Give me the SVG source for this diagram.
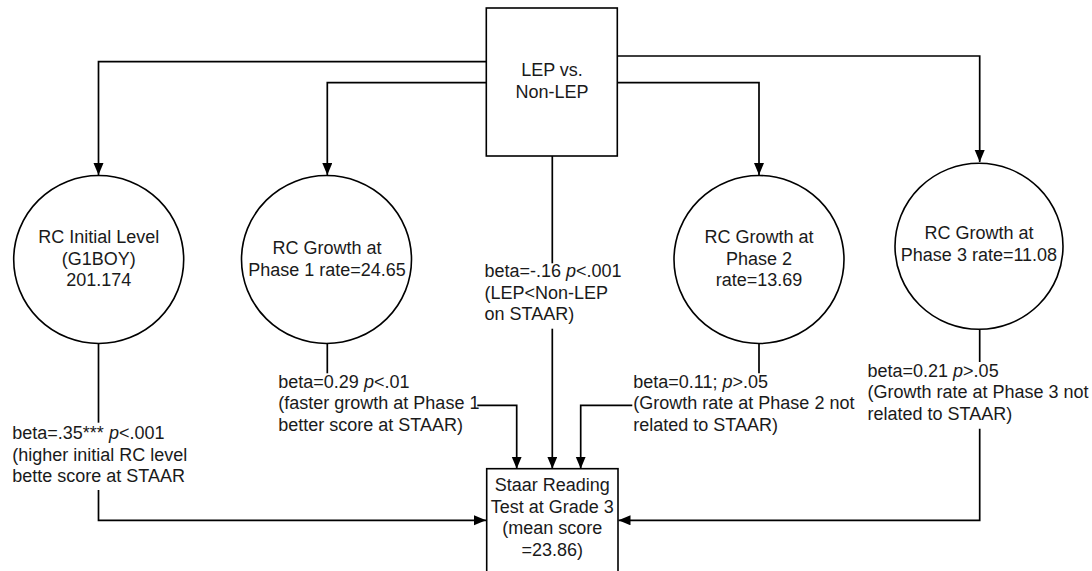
<svg xmlns="http://www.w3.org/2000/svg" width="1092" height="571" viewBox="0 0 1092 571">
<defs>
<style>
.shape{fill:#fff;stroke:#000;stroke-width:1.6}
.conn{fill:none;stroke:#000;stroke-width:1.7}
text{font-family:"Liberation Sans",Arial,sans-serif;font-size:18px;fill:#1a1a1a}
.c{text-anchor:middle}
.i{font-style:italic}
</style>
<marker id="arr" markerUnits="userSpaceOnUse" markerWidth="13" markerHeight="11" refX="12" refY="5" orient="auto">
<path d="M0,0 L12,5 L0,10 z" fill="#000"/>
</marker>
</defs>
<rect width="1092" height="571" fill="#fff"/>
<g id="connectors">
<path class="conn" d="M486.3,61.7 H98.5 V175" marker-end="url(#arr)"/>
<path class="conn" d="M486.3,82.7 H327.3 V175" marker-end="url(#arr)"/>
<path class="conn" d="M617.3,82.7 H759 V175" marker-end="url(#arr)"/>
<path class="conn" d="M617.3,56 H979.7 V162" marker-end="url(#arr)"/>
<path class="conn" d="M552.3,156 V263.3"/>
<path class="conn" d="M552.3,328.7 V468.7" marker-end="url(#arr)"/>
<path class="conn" d="M98.5,343.3 V422.7"/>
<path class="conn" d="M98.5,490 V520.3 H486" marker-end="url(#arr)"/>
<path class="conn" d="M327.3,343.3 V373.3"/>
<path class="conn" d="M477.3,405.3 H516.7 V468.7" marker-end="url(#arr)"/>
<path class="conn" d="M759,343.3 V373.3"/>
<path class="conn" d="M632.3,405.3 H580.7 V468.7" marker-end="url(#arr)"/>
<path class="conn" d="M979.7,329.3 V362"/>
<path class="conn" d="M979.7,428.7 V520.3 H618.5" marker-end="url(#arr)"/>
</g>
<g id="lep">
<rect class="shape" x="486.3" y="8" width="131" height="148"/>
<text class="c" x="552" y="76">LEP vs.</text>
<text class="c" x="552" y="97.5">Non-LEP</text>
</g>
<g id="rc-initial">
<ellipse class="shape" cx="98.7" cy="259.5" rx="85" ry="84"/>
<text class="c" x="98.7" y="243">RC Initial Level</text>
<text class="c" x="98.7" y="264.5">(G1BOY)</text>
<text class="c" x="98.7" y="286">201.174</text>
</g>
<g id="rc-phase1">
<ellipse class="shape" cx="326.5" cy="259.5" rx="85" ry="84"/>
<text class="c" x="327" y="254">RC Growth at</text>
<text class="c" x="327" y="275.5">Phase 1 rate=24.65</text>
</g>
<g id="rc-phase2">
<ellipse class="shape" cx="759" cy="259.5" rx="85" ry="84"/>
<text class="c" x="759" y="243">RC Growth at</text>
<text class="c" x="759" y="264.5">Phase 2</text>
<text class="c" x="759" y="286">rate=13.69</text>
</g>
<g id="rc-phase3">
<ellipse class="shape" cx="979" cy="246.3" rx="84" ry="83"/>
<text class="c" x="979" y="239.3">RC Growth at</text>
<text class="c" x="979" y="260.8">Phase 3 rate=11.08</text>
</g>
<g id="staar">
<rect class="shape" x="486.7" y="468.7" width="131.3" height="110"/>
<text class="c" x="552.3" y="491">Staar Reading</text>
<text class="c" x="552.3" y="512.7">Test at Grade 3</text>
<text class="c" x="552.3" y="534.3">(mean score</text>
<text class="c" x="552.3" y="555.7">=23.86)</text>
</g>
<g id="labels">
<text x="484.5" y="276.7">beta=-.16 <tspan class="i">p</tspan>&lt;.001</text>
<text x="484.5" y="298.5">(LEP&lt;Non-LEP</text>
<text x="484.5" y="319.5">on STAAR)</text>
<text x="12.3" y="439.3">beta=.35*** <tspan class="i">p</tspan>&lt;.001</text>
<text x="12.3" y="460.8">(higher initial RC level</text>
<text x="12.3" y="482.3">bette score at STAAR</text>
<text x="278.3" y="387.7">beta=0.29 <tspan class="i">p</tspan>&lt;.01</text>
<text x="278.3" y="409.3">(faster growth at Phase 1</text>
<text x="278.3" y="430.8">better score at STAAR)</text>
<text x="633.3" y="387.7">beta=0.11; <tspan class="i">p</tspan>&gt;.05</text>
<text x="633.3" y="409.3">(Growth rate at Phase 2 not</text>
<text x="633.3" y="430.8">related to STAAR)</text>
<text x="867.5" y="376.7">beta=0.21 <tspan class="i">p</tspan>&gt;.05</text>
<text x="867.5" y="398.2">(Growth rate at Phase 3 not</text>
<text x="867.5" y="419.7">related to STAAR)</text>
</g>
</svg>
